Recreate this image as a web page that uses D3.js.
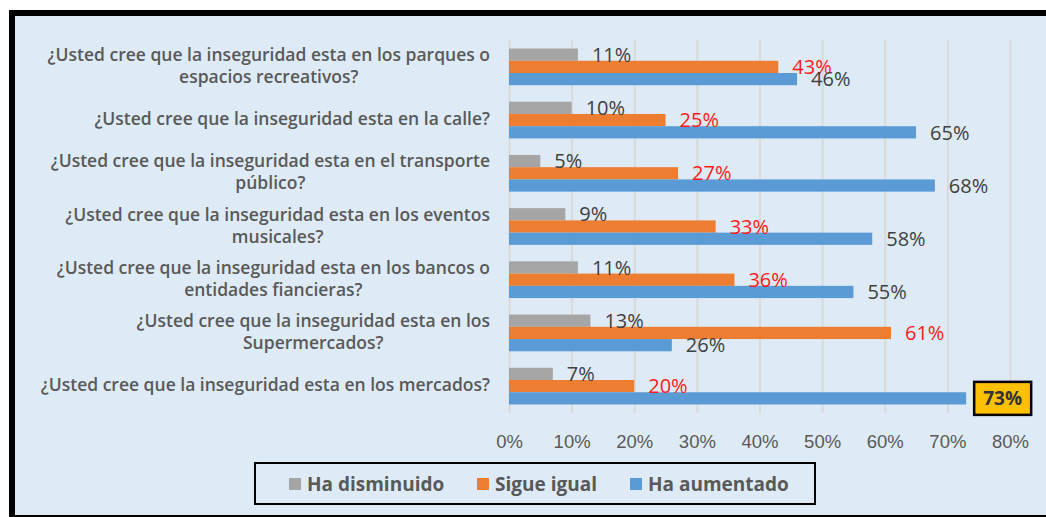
<!DOCTYPE html>
<html>
<head>
<meta charset="utf-8">
<script src="https://cdn.jsdelivr.net/npm/d3@7"></script>
<style>
  body { margin: 0; background: #fff; }
  svg { display: block; font-family: "Open Sans", sans-serif; }
</style>
</head>
<body>
<svg id="chart" width="1046" height="517"></svg>
<script>
(function(){

    // categories, top to bottom
    const categories = [
        "¿Usted cree que la inseguridad esta en los parques o\nespacios recreativos?",
        "¿Usted cree que la inseguridad esta en la calle?",
        "¿Usted cree que la inseguridad esta en el transporte\npúblico?",
        "¿Usted cree que la inseguridad esta en los eventos\nmusicales?",
        "¿Usted cree que la inseguridad esta en los bancos o\nentidades fiancieras?",
        "¿Usted cree que la inseguridad esta en los\nSupermercados?",
        "¿Usted cree que la inseguridad esta en los mercados?"
    ];
    const seriesNames = ["Ha disminuido", "Sigue igual", "Ha aumentado"];
    const disminuido = [11, 10, 5, 9, 11, 13, 7];
    const sigueIgual = [43, 25, 27, 33, 36, 61, 20];
    const aumentado = [46, 65, 68, 58, 55, 26, 73];
    const xTicks = [0, 10, 20, 30, 40, 50, 60, 70, 80];

    const colors = ["#A5A5A5", "#ED7D31", "#5B9BD5"];
    const labelColors = ["#404040", "#FF1A1A", "#404040"];
    const seriesValues = [disminuido, sigueIgual, aumentado];

    const svg = d3.select("#chart");

    // frame + background
    svg.append("rect").attr("x", 9).attr("y", 10).attr("width", 1046).attr("height", 507).attr("fill", "#000");
    svg.append("rect").attr("x", 15).attr("y", 16).attr("width", 1040).attr("height", 499).attr("fill", "#DEEBF7");

    const top = 40, bottom = 413;

    const x = d3.scaleLinear().domain([0, 80]).range([509, 1010]);
    const y = d3.scaleBand()
        .domain(d3.range(categories.length))
        .range([top, bottom])
        .paddingInner(0.31)
        .paddingOuter(0.16);
    const ySub = d3.scaleBand()
        .domain(seriesNames)
        .range([0, y.bandwidth()]);

    // gridlines
    const grid = svg.append("g")
        .attr("transform", "translate(0," + bottom + ")")
        .call(d3.axisBottom(x).tickValues(xTicks).tickSize(-(bottom - top)).tickFormat(""));
    grid.select(".domain").remove();
    grid.selectAll("line").attr("stroke", "#D9D9D9").attr("stroke-width", 2);

    // tick labels
    const axis = svg.append("g")
        .attr("transform", "translate(0," + 442 + ")")
        .call(d3.axisBottom(x).tickValues(xTicks).tickSize(0).tickFormat(d => d + "%"));
    axis.select(".domain").remove();
    axis.selectAll("text")
        .attr("font-size", "18.5px")
        .attr("fill", "#595959")
        .attr("dy", "0.35em")
        .attr("y", 0);

    // bars
    const rows = categories.map((c, i) => ({
        i: i,
        vals: seriesNames.map((s, k) => ({ s: s, k: k, v: seriesValues[k][i] }))
    }));

    const groups = svg.selectAll("g.row")
        .data(rows)
        .enter()
        .append("g")
        .attr("class", "row")
        .attr("transform", d => "translate(0," + y(d.i) + ")");

    groups.selectAll("rect")
        .data(d => d.vals)
        .enter()
        .append("rect")
        .attr("x", x(0))
        .attr("y", d => ySub(d.s))
        .attr("width", d => x(d.v) - x(0))
        .attr("height", ySub.bandwidth())
        .attr("fill", d => colors[d.k]);

    // data labels (the largest value is boxed)
    const maxVal = d3.max(aumentado);
    groups.each(function(row) {
        const g = d3.select(this);
        row.vals.forEach(d => {
            const cy = ySub(d.s) + ySub.bandwidth() / 2;
            if (d.k === 2 && d.v === maxVal) {
                const bx = x(d.v) + 8, bw = 57, bh = 33;
                g.append("rect")
                    .attr("x", bx).attr("y", cy - bh / 2)
                    .attr("width", bw).attr("height", bh)
                    .attr("fill", "#FFC000")
                    .attr("stroke", "#000")
                    .attr("stroke-width", 2.5);
                g.append("text")
                    .attr("x", bx + bw / 2)
                    .attr("y", cy)
                    .attr("dy", "0.36em")
                    .attr("text-anchor", "middle")
                    .attr("font-size", "19px")
                    .attr("font-weight", 700)
                    .attr("fill", "#333")
                    .text(d.v + "%");
            } else {
                g.append("text")
                    .attr("x", x(d.v) + 14)
                    .attr("y", cy)
                    .attr("dy", "0.36em")
                    .attr("font-size", "20px")
                    .attr("fill", labelColors[d.k])
                    .text(d.v + "%");
            }
        });
    });

    // category labels: lines centered to each other, block right-aligned
    const lineH = 22;
    const rightEdge = 490;
    categories.forEach((c, i) => {
        const lines = c.split("\n");
        const cy = y(i) + y.bandwidth() / 2 - 1;
        const g = svg.append("g");
        const texts = lines.map((ln, j) => g.append("text")
            .attr("y", cy + (j - (lines.length - 1) / 2) * lineH)
            .attr("dy", "0.35em")
            .attr("text-anchor", "middle")
            .attr("font-size", "17.5px")
            .attr("font-weight", 600)
            .attr("fill", "#595959")
            .text(ln));
        const w = d3.max(texts, t => t.node().getComputedTextLength());
        texts.forEach(t => t.attr("x", rightEdge - w / 2));
    });

    // legend
    svg.append("rect")
        .attr("x", 255).attr("y", 463)
        .attr("width", 560).attr("height", 41)
        .attr("fill", "none")
        .attr("stroke", "#000")
        .attr("stroke-width", 2);

    const legendX = [289, 477, 630];
    const legend = svg.selectAll("g.legend")
        .data(seriesNames)
        .enter()
        .append("g")
        .attr("class", "legend")
        .attr("transform", (d, i) => "translate(" + legendX[i] + ",484)");
    legend.append("rect")
        .attr("x", 0).attr("y", -6)
        .attr("width", 12).attr("height", 12)
        .attr("fill", (d, i) => colors[i]);
    legend.append("text")
        .attr("x", 18)
        .attr("dy", "0.35em")
        .attr("font-size", "19px")
        .attr("font-weight", 700)
        .attr("fill", "#595959")
        .text(d => d);

})()
</script>
</body>
</html>
